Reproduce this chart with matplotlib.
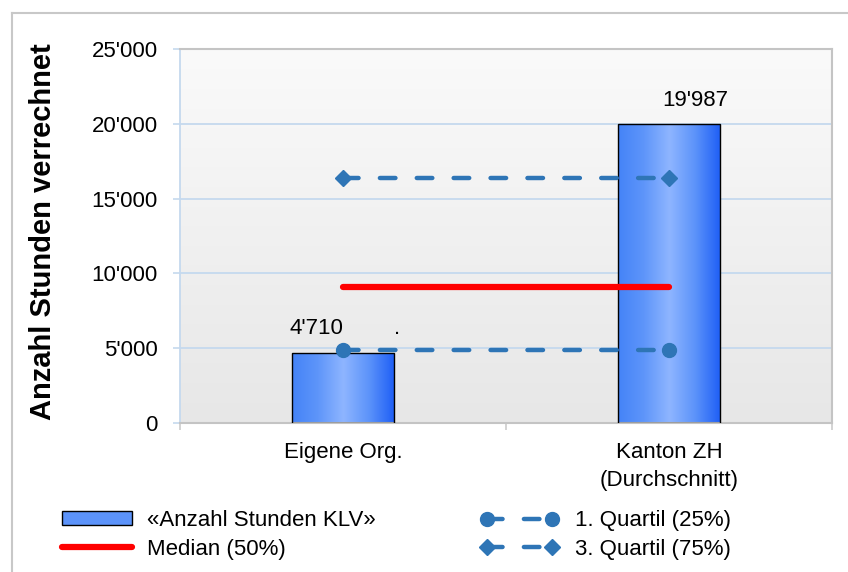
import numpy as np
import matplotlib
matplotlib.use("Agg")
import matplotlib.pyplot as plt
from matplotlib.lines import Line2D
from matplotlib.colors import LinearSegmentedColormap
from matplotlib.ticker import FuncFormatter
from matplotlib.patches import Rectangle

plt.rcParams['font.family'] = ['Liberation Sans', 'DejaVu Sans']

categories = ["Eigene Org.", "Kanton ZH\n(Durchschnitt)"]
hours = [4710, 19987]
bar_labels = ["4'710", "19'987"]
median = [9100, 9100]
q1 = [4880, 4880]
q3 = [16400, 16400]
y_ticks = [0, 5000, 10000, 15000, 20000, 25000]

FS = 16
W, H = 848, 572
fig = plt.figure(figsize=(W / 100, H / 100), dpi=100)
ax = fig.add_axes([180 / W, 1 - 423 / H, 652 / W, 374 / H])

x = np.arange(len(categories))

# plot-area gradient background (light top, darker bottom)
bg = np.linspace(1, 0, 256).reshape(-1, 1)
bg_cmap = LinearSegmentedColormap.from_list("bg", ["#FAFAFA", "#E7E7E7"])
ax.imshow(bg, cmap=bg_cmap, aspect='auto', extent=[-0.5, 1.5, 0, 25000],
          zorder=0, origin='lower')

# grid
for t in y_ticks[1:]:
    ax.axhline(t, color="#C5D9EE", lw=1.3, zorder=1)

# bars with horizontal gradient
bar_w = 0.313
bar_cmap = LinearSegmentedColormap.from_list(
    "bar", ["#4483F7", "#5E95FA", "#8EB5FF", "#5C93FA", "#1E5EF5"])
grad = np.linspace(0, 1, 256).reshape(1, -1)
bars = ax.bar(x, hours, width=bar_w, color="none", edgecolor="black",
              linewidth=1.0, zorder=3)
for b in bars:
    x0, y0 = b.get_x(), b.get_y()
    im = ax.imshow(grad, cmap=bar_cmap, aspect='auto',
                   extent=[x0, x0 + b.get_width(), y0, y0 + b.get_height()],
                   zorder=2)
    im.set_clip_path(Rectangle((x0, y0), b.get_width(), b.get_height(),
                               transform=ax.transData))
ax.set_xlim(-0.5, len(categories) - 0.5)
ax.set_ylim(0, 25000)

# value labels
label_dx = [-0.083, 0.08]
for xi, v, lab, dx in zip(x, hours, bar_labels, label_dx):
    ax.text(xi + dx, v + 1600, lab, ha="center", va="center", fontsize=FS, zorder=5)
ax.text(x[0] + 0.166, 5950, ".", ha="center", va="baseline", fontsize=FS, zorder=5)

# lines
ln_med, = ax.plot(x, median, color="#FF0000", lw=4.5, solid_capstyle="round", zorder=4)
ln_q1, = ax.plot(x, q1, color="#2E75B6", lw=3.2, ls=(0, (3.5, 4.8)),
                 dash_capstyle="round", marker="o", markersize=10, zorder=4)
ln_q3, = ax.plot(x, q3, color="#2E75B6", lw=3.2, ls=(0, (3.5, 4.8)),
                 dash_capstyle="round", marker="D", markersize=8, zorder=4)

# axes styling
ax.set_yticks(y_ticks)
ax.yaxis.set_major_formatter(FuncFormatter(lambda v, p: f"{int(v):,}".replace(",", "'")))
ax.set_xticks(x)
ax.set_xticklabels(categories, fontsize=FS, linespacing=1.4)
ax.tick_params(axis="y", labelsize=FS, length=5, width=1.2, color="#C5D9EE", pad=11)
ax.tick_params(axis="x", length=0, pad=14)
ax.set_xticks([-0.5, 0.5, 1.5], minor=True)
ax.tick_params(axis="x", which="minor", length=5, width=1.2, color="#CCCCCC")
for s in ["top", "right", "bottom"]:
    ax.spines[s].set_color("#C4C4C4")
    ax.spines[s].set_linewidth(1.5)
ax.spines["left"].set_color("#C5D9EE")
ax.spines["left"].set_linewidth(1.3)
fig.text(43 / W, 1 - 232 / H, "Anzahl Stunden verrechnet", rotation=90,
         ha="center", va="center", fontsize=21, fontweight="bold")

# legends
bar_handle = Rectangle((0, 0), 1, 1, facecolor="#5C93FA", edgecolor="black", lw=1)
leg1 = fig.legend([bar_handle, ln_med],
                  ["\u00abAnzahl Stunden KLV\u00bb", "Median (50%)"],
                  loc="upper left", bbox_to_anchor=(62 / W, 1 - 510 / H),
                  frameon=False, fontsize=FS, handlelength=3.15, handleheight=0.55,
                  handletextpad=0.68, labelspacing=0.35, borderpad=0, borderaxespad=0)
leg2 = fig.legend([ln_q1, ln_q3], ["1. Quartil (25%)", "3. Quartil (75%)"],
                  loc="upper left", bbox_to_anchor=(480 / W, 1 - 510 / H),
                  frameon=False, fontsize=FS, handlelength=3.56, handleheight=0.55,
                  numpoints=2, handletextpad=0.72, labelspacing=0.35,
                  borderpad=0, borderaxespad=0)

# figure border
fig.add_artist(Line2D([12 / W, 12 / W], [0, 1 - 13 / H], transform=fig.transFigure,
                      color="#C8C8C8", lw=1.5))
fig.add_artist(Line2D([12 / W, 1], [1 - 13 / H, 1 - 13 / H], transform=fig.transFigure,
                      color="#C8C8C8", lw=1.5))

fig.savefig("out.png", dpi=100)
